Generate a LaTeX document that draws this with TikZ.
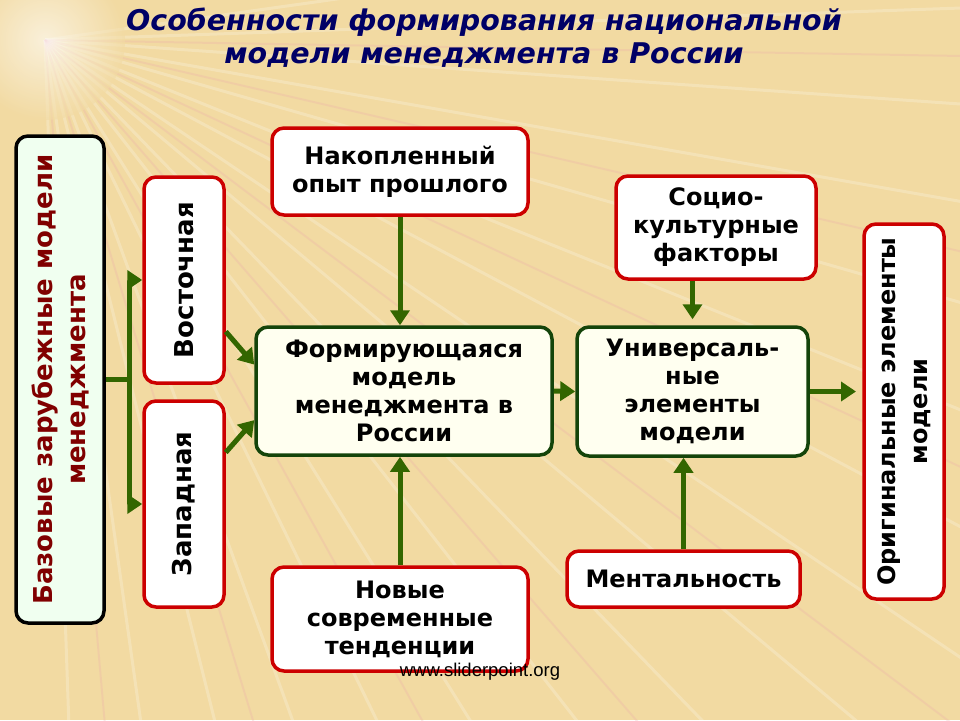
\documentclass[tikz,border=0pt]{standalone}
\usepackage{fontspec}
\setmainfont{DejaVu Sans}
\newfontfamily\sitefont{Liberation Sans}
\usetikzlibrary{arrows.meta}

\definecolor{paper}{RGB}{242,218,162}
\definecolor{rayPink}{RGB}{236,170,170}
\definecolor{boxred}{RGB}{204,0,0}
\definecolor{boxgreen}{RGB}{20,68,10}
\definecolor{arrowgreen}{RGB}{51,102,0}
\definecolor{ivory}{RGB}{255,255,240}
\definecolor{mint}{RGB}{240,255,240}
\definecolor{headblue}{RGB}{0,0,102}
\definecolor{basetextred}{RGB}{128,0,0}

\newcommand{\boxfont}{\fontsize{24}{28}\selectfont\bfseries}
\newcommand{\sidefont}{\fontsize{26}{33}\selectfont\bfseries}

\tikzstyle{redbox}=[rectangle, rounded corners=12pt, draw=boxred, line width=3.5pt, fill=white, inner sep=0pt, anchor=center]
\tikzstyle{greenbox}=[redbox, draw=boxgreen, fill=ivory]
\tikzstyle{basebox}=[redbox, draw=black, fill=mint]
\tikzstyle{annot}=[align=center, font=\boxfont]
\tikzstyle{sideannot}=[align=center, font=\sidefont, rotate=90]
\tikzstyle{flow}=[draw=arrowgreen, line width=5pt, -{Triangle[length=15pt,width=19pt]}]

\begin{document}
\begin{tikzpicture}[x=1pt, y=-1pt]
	\useasboundingbox (0,0) rectangle (960,720);

	% background with the light burst
	\fill[paper] (0,0) rectangle (960,720);
	\begin{scope}
		\clip (0,0) rectangle (960,720);
		\coordinate (burst) at (45,40);
		\foreach \a in {-8,-2,...,88} \draw[white, opacity=0.22, line width=3pt] (burst) -- ++(\a:1300);
		\foreach \a in {1,13,...,85} \draw[rayPink, opacity=0.25, line width=2pt] (burst) -- ++(\a:1300);
		\shade[inner color=white, outer color=paper, opacity=0.6] (burst) circle (80);
	\end{scope}

	\node[font=\fontsize{28.5}{33}\selectfont\bfseries\itshape, text=headblue, align=center] (head) at (484,38) {Особенности формирования национальной\\модели менеджмента в России};

	% boxes
	\node[basebox, minimum width=88pt, minimum height=487pt](base) at (60,379.5){};
	\node[sideannot, text=basetextred](basetext) at (base){Базовые зарубежные модели\\менеджмента};
	\node[redbox, minimum width=80pt, minimum height=206pt](east) at (184,280){};
	\node[sideannot](easttext) at (east){Восточная};
	\node[redbox, minimum width=80pt, minimum height=206pt](west) at (184,504){};
	\node[sideannot](westtext) at (west){Западная};

	\node[redbox, annot, minimum width=256pt, minimum height=87pt](past) at (400,171.5){Накопленный\\опыт прошлого};
	\node[greenbox, annot, minimum width=296pt, minimum height=128pt](forming) at (404,391){Формирующаяся\\модель\\менеджмента в\\России};
	\node[redbox, annot, minimum width=256pt, minimum height=104pt](modern) at (400,619){Новые\\современные\\тенденции};

	\node[redbox, annot, minimum width=200pt, minimum height=103pt](socio) at (716,227.5){Социо-\\культурные\\факторы};
	\node[greenbox, annot, minimum width=231pt, minimum height=129pt](univ) at (692.5,391.5){Универсаль-\\ные\\элементы\\модели};
	\node[redbox, annot, minimum width=233pt, minimum height=56pt](mental) at (683.5,579){Ментальность};

	\node[redbox, minimum width=80pt, minimum height=375pt](orig) at (904,411.5){};
	\node[sideannot, font=\fontsize{24}{32}\selectfont\bfseries](origtext) at (orig){Оригинальные элементы\\модели};
	\coordinate (out) at (856,391.5);

	% arrows
	\draw[draw=arrowgreen, line width=5pt] (base.east) -- ++(24,0) coordinate (split);
	\draw[flow] (split) |- (east.west);
	\draw[flow] (split) |- (west.west);
	\draw[flow] (east.-51) -- (forming.170);
	\draw[flow] (west.51) -- (forming.191);
	\draw[flow] (past.south) -- (past.south |- forming.north);
	\draw[flow] (modern.north) -- (modern.north |- forming.south);
	\draw[flow] (forming.east) -- (univ.west);
	\draw[flow, shorten >=6pt] (univ.north |- socio.south) -- (univ.north);
	\draw[flow] (mental.north) -- (mental.north |- univ.south);
	\draw[flow] (univ.east) -- (out);

	\node[font=\sitefont\fontsize{18.5}{21}\selectfont](site) at (480,672){www.sliderpoint.org};

\end{tikzpicture}
\end{document}
